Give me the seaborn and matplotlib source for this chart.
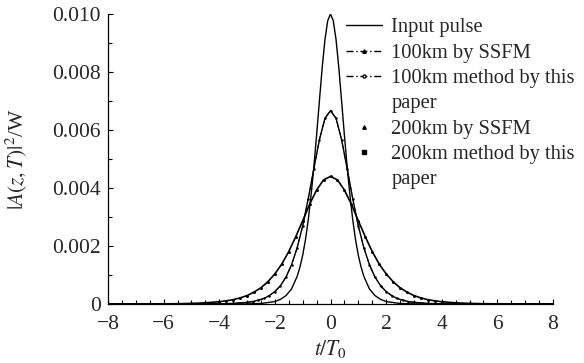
import matplotlib
matplotlib.use("Agg")
import matplotlib.pyplot as plt
from matplotlib.lines import Line2D
from matplotlib.ticker import MultipleLocator
import seaborn as sns
import pandas as pd

# ---- data ----
t_in = [-8, -6, -4, -3, -2.5, -2.0, -1.8, -1.6, -1.4, -1.2, -1.1, -1.0, -0.9, -0.8, -0.7, -0.6,
        -0.5, -0.4, -0.3, -0.2, -0.1, 0.0, 0.1, 0.2, 0.3, 0.4, 0.5, 0.6, 0.7, 0.8, 0.9, 1.0,
        1.1, 1.2, 1.4, 1.6, 1.8, 2.0, 2.5, 3, 4, 6, 8]
p_in = [0, 0, 0, 0.000004, 0.000018, 0.000085, 0.00016, 0.00029, 0.00052, 0.00095, 0.00127,
        0.00168, 0.00222, 0.00290, 0.00374, 0.00471, 0.00582, 0.00699, 0.00814, 0.00911, 0.00977,
        0.01000, 0.00977, 0.00911, 0.00814, 0.00699, 0.00582, 0.00471, 0.00374, 0.00290, 0.00222,
        0.00168, 0.00127, 0.00095, 0.00052, 0.00029, 0.00016, 0.000085, 0.000018, 0.000004, 0, 0, 0]

t_100 = [-8, -6, -5, -4, -3.5, -3.0, -2.8, -2.6, -2.4, -2.2, -2.0, -1.8, -1.6, -1.4, -1.2, -1.0,
         -0.8, -0.6, -0.4, -0.2, 0.0, 0.2, 0.4, 0.6, 0.8, 1.0, 1.2, 1.4, 1.6, 1.8, 2.0, 2.2, 2.4,
         2.6, 2.8, 3.0, 3.5, 4, 5, 6, 8]
p100_ssfm = [0, 0, 0, 0.000007, 0.00002, 0.000057, 0.000085, 0.00013, 0.00019, 0.00029, 0.00043,
             0.00063, 0.00093, 0.00135, 0.00194, 0.00269, 0.00363, 0.00466, 0.00566, 0.00640,
             0.00667, 0.00640, 0.00566, 0.00466, 0.00363, 0.00269, 0.00194, 0.00135, 0.00093,
             0.00063, 0.00043, 0.00029, 0.00019, 0.00013, 0.000085, 0.000057, 0.00002, 0.000007,
             0, 0, 0]
p100_paper = [0, 0, 0, 0.000007, 0.00002, 0.000057, 0.000085, 0.00013, 0.00019, 0.00029, 0.00043,
              0.00063, 0.00093, 0.00135, 0.00194, 0.00269, 0.00363, 0.00466, 0.00566, 0.00640,
              0.00667, 0.00640, 0.00566, 0.00466, 0.00363, 0.00269, 0.00194, 0.00135, 0.00093,
              0.00063, 0.00043, 0.00029, 0.00019, 0.00013, 0.000085, 0.000057, 0.00002, 0.000007,
              0, 0, 0]

t_200 = [-8, -7, -6, -5.5, -5.0, -4.5, -4.0, -3.75, -3.5, -3.25, -3.0, -2.75, -2.5, -2.25, -2.0,
         -1.75, -1.5, -1.25, -1.0, -0.75, -0.5, -0.25, 0.0, 0.25, 0.5, 0.75, 1.0, 1.25, 1.5, 1.75,
         2.0, 2.25, 2.5, 2.75, 3.0, 3.25, 3.5, 3.75, 4.0, 4.5, 5.0, 5.5, 6, 7, 8]
p200_ssfm = [0, 0, 0.000005, 0.00001, 0.00002, 0.00004, 0.000079, 0.00011, 0.00015, 0.00021,
             0.00029, 0.00041, 0.00056, 0.00077, 0.00104, 0.00138, 0.00181, 0.00232, 0.00287,
             0.00344, 0.00393, 0.00428, 0.00440, 0.00428, 0.00393, 0.00344, 0.00287, 0.00232,
             0.00181, 0.00138, 0.00104, 0.00077, 0.00056, 0.00041, 0.00029, 0.00021, 0.00015,
             0.00011, 0.000079, 0.00004, 0.00002, 0.00001, 0.000005, 0, 0]
p200_paper = [0, 0, 0.000005, 0.00001, 0.00002, 0.00004, 0.000079, 0.00011, 0.00015, 0.00021,
              0.00029, 0.00041, 0.00056, 0.00077, 0.00104, 0.00138, 0.00181, 0.00232, 0.00287,
              0.00344, 0.00393, 0.00428, 0.00440, 0.00428, 0.00393, 0.00344, 0.00287, 0.00232,
              0.00181, 0.00138, 0.00104, 0.00077, 0.00056, 0.00041, 0.00029, 0.00021, 0.00015,
              0.00011, 0.000079, 0.00004, 0.00002, 0.00001, 0.000005, 0, 0]

# legend text lines (the two long labels wrap onto a second line "paper")
legend_lines = ["Input pulse", "100km by SSFM", "100km method by this", "paper",
                "200km by SSFM", "200km method by this", "paper"]
x_ticks = [-8, -6, -4, -2, 0, 2, 4, 6, 8]
y_ticks = [0, 0.002, 0.004, 0.006, 0.008, 0.010]
y_ticklabels = ["0", "0.002", "0.004", "0.006", "0.008", "0.010"]

# ---- styling ----
sns.set_theme(style="ticks")
plt.rcParams["font.family"] = ["Liberation Serif", "DejaVu Serif"]
plt.rcParams["mathtext.fontset"] = "stix"
FS = 15.5
LFS = 14.8

fig = plt.figure(figsize=(5.84, 3.63), dpi=100)
ax = fig.add_axes([108 / 584, 59 / 363, 445 / 584, 290 / 363])

df_in = pd.DataFrame({"t": t_in, "p": p_in})
df_100a = pd.DataFrame({"t": t_100, "p": p100_ssfm})
df_100b = pd.DataFrame({"t": t_100, "p": p100_paper})
df_200a = pd.DataFrame({"t": t_200, "p": p200_ssfm})
df_200b = pd.DataFrame({"t": t_200, "p": p200_paper})

k = "black"
sns.lineplot(data=df_in, x="t", y="p", ax=ax, color=k, lw=1.0, sort=False)
sns.lineplot(data=df_100a, x="t", y="p", ax=ax, color=k, lw=1.0, sort=False)
ax.plot(df_100b["t"], df_100b["p"], color=k, lw=0.7, ls=(0, (6, 2, 1, 2)),
        marker="o", ms=0.8, mfc=k, mec=k)
sns.lineplot(data=df_200a, x="t", y="p", ax=ax, color=k, lw=1.2, sort=False)
ax.plot(df_200a["t"], df_200a["p"], ls="none", marker="^", ms=1.0, color=k)
ax.plot(df_200b["t"], df_200b["p"], ls="none", marker="s", ms=0.8, color=k)

ax.set_xlim(-8, 8)
ax.set_ylim(0, 0.010)
ax.set_xticks(x_ticks)
ax.set_xticklabels([("\u2212" + str(-v)) if v < 0 else str(v) for v in x_ticks], fontsize=FS)
ax.set_yticks(y_ticks)
ax.set_yticklabels(y_ticklabels, fontsize=FS)
ax.xaxis.set_minor_locator(MultipleLocator(0.5))
ax.yaxis.set_minor_locator(MultipleLocator(0.001))
ax.tick_params(which="both", direction="in", color=k, width=0.8)
ax.tick_params(which="major", length=3.5)
ax.tick_params(which="minor", length=3.0)
ax.tick_params(axis="x", which="major", pad=8)
ax.tick_params(axis="y", which="major", pad=5)
for s in ["top", "right"]:
    ax.spines[s].set_visible(False)
for s in ["left", "bottom"]:
    ax.spines[s].set_color(k)
    ax.spines[s].set_linewidth(0.9)

ax.set_xlabel("$t/T_0$", fontsize=FS, labelpad=3)
ax.set_ylabel("$|A(z,T)|^2$/W", fontsize=FS, labelpad=17)

dashdot = (0, (5, 2, 1, 2))
blank = Line2D([], [], ls="none", marker="none")
handles = [
    Line2D([], [], color=k, lw=1.0),
    Line2D([], [], color=k, lw=1.0, ls=dashdot, marker="^", ms=2.5),
    Line2D([], [], color=k, lw=1.0, ls=dashdot, marker="o", ms=2.2, mfc="white"),
    blank,
    Line2D([], [], color=k, ls="none", marker="^", ms=2.5),
    Line2D([], [], color=k, ls="none", marker="s", ms=2.2),
    blank,
]
leg = fig.legend(handles, legend_lines, loc="upper left",
                 bbox_to_anchor=(346 / 584, 1 - 18 / 363),
                 frameon=False, fontsize=LFS, handlelength=1.75, handletextpad=0.45,
                 labelspacing=0.29, borderpad=0, borderaxespad=0, numpoints=1)

fig.savefig("out.png", dpi=100)
